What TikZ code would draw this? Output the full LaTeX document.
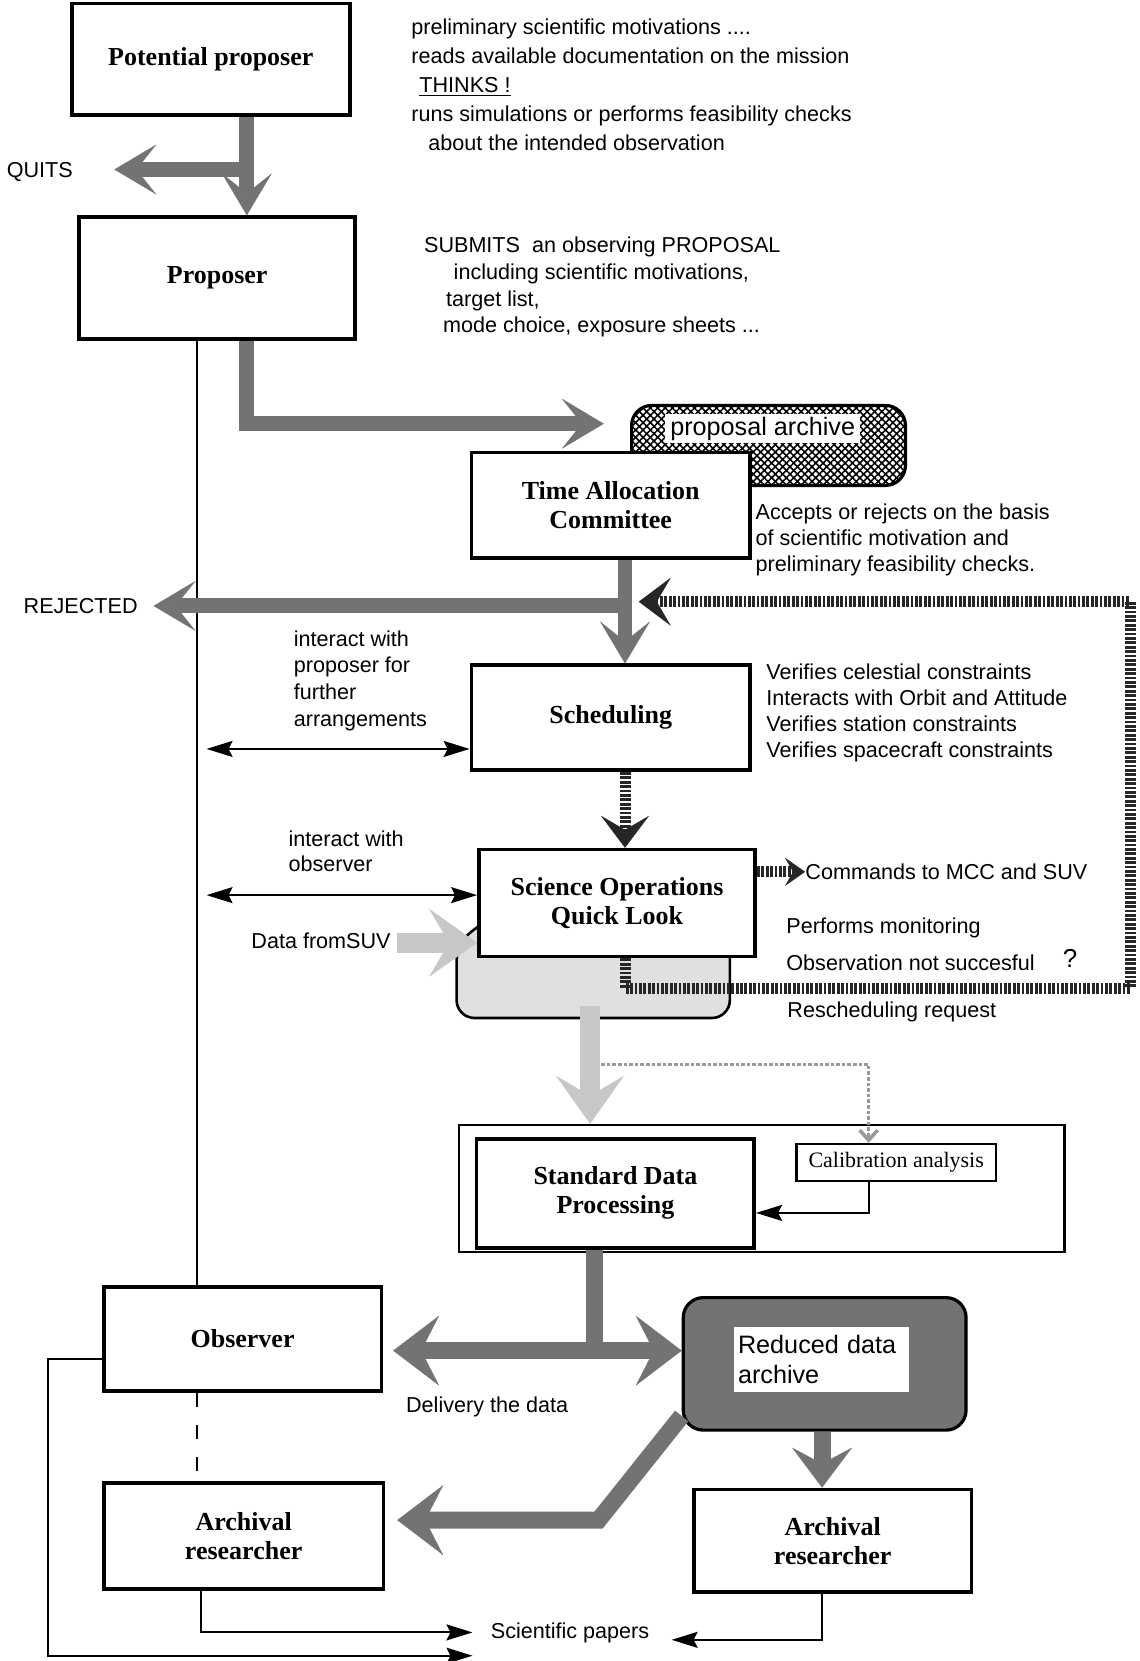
\documentclass[tikz,border=0pt]{standalone}
\usepackage{fontspec}
\setmainfont{Liberation Serif}
\setsansfont{Liberation Sans}
\usetikzlibrary{arrows.meta,patterns.meta,backgrounds}

\begin{document}
\begin{tikzpicture}[
  x=0.53pt, y=-0.53pt,
  box/.style={draw, line width=1.8pt, fill=white, align=center, font=\fontsize{13}{14.5}\selectfont\bfseries},
  txt/.style={anchor=west, align=left, inner sep=0pt, font=\sffamily\fontsize{10.8}{#1}\selectfont},
  txt/.default=13,
  store/.style={draw, line width=1.6pt, rounded corners=10pt},
  xhead/.tip={Stealth[length=21pt, width=25pt, inset=10pt, line width=0.1pt]},
  shead/.tip={Stealth[length=16pt, width=24pt, inset=7pt, line width=0.1pt]},
  lhead/.tip={Stealth[length=24pt, width=34pt, inset=10pt, line width=0.1pt]},
  dhead/.tip={Stealth[length=23pt, width=35pt, inset=9pt, line width=0.1pt]},
  thead/.tip={Stealth[length=13pt, width=8pt, inset=2pt]},
  xarrow/.style={line width=7.5pt, black!55, -xhead},
  sarrow/.style={line width=5.5pt, black!85, dash pattern=on 1.4pt off 0.8pt, -shead},
  larrow/.style={line width=10pt, black!22, -lhead},
  darrow/.style={line width=8.5pt, black!55, -dhead},
  dband/.style={line width=8.5pt, black!55},
  tline/.style={line width=1pt},
  tarrow/.style={line width=1pt, -thead},
  dbl/.style={line width=1pt, thead-thead}
]
\useasboundingbox (0,0) rectangle (1076,1568);

\node[box, minimum width=139pt, minimum height=56pt] (pp) at (199,56) {Potential proposer};
\node[txt=14.6] (motiv) at (388,80) {preliminary scientific motivations ....\\reads available documentation on the mission\\\hspace*{4pt}\underline{THINKS !}\\runs simulations or performs feasibility checks\\\hspace*{8.5pt}about the intended observation};
\node[txt] (quits) at (6,162) {QUITS};
\node[box, minimum width=138pt, minimum height=61pt] (prop) at (205,262.5) {Proposer};
\node[txt=13.4] (submit) at (400,271) {SUBMITS~ an observing PROPOSAL\\\hspace*{14.8pt}including scientific motivations,\\\hspace*{11pt}target list,\\\hspace*{9.5pt}mode choice, exposure sheets ...};
\node[store, preaction={pattern={Lines[angle=45, distance=2.6pt, line width=0.8pt]}}, pattern={Lines[angle=-45, distance=2.6pt, line width=0.8pt]}, minimum width=137pt, minimum height=40pt] (parch) at (725.5,420.5) {};
\node[fill=white, inner sep=0pt, minimum width=97.5pt, minimum height=14.3pt, font=\sffamily\fontsize{12.6}{14}\selectfont] (parchl) at (720,404.5) {proposal archive};
\node[box, minimum width=139.4pt, minimum height=53pt] (tac) at (576.5,477) {Time Allocation\\Committee};
\node[txt] (accept) at (713,509.5) {Accepts or rejects on the basis\\of scientific motivation and\\preliminary feasibility checks.};
\node[txt] (rej) at (22,572) {REJECTED};
\node[box, minimum width=139.4pt, minimum height=52.5pt] (sched) at (576.5,677.5) {Scheduling};
\node[txt=13.3] (inter1) at (277,642.5) {interact with\\proposer for\\further\\arrangements};
\node[txt] (verif) at (723,673) {Verifies celestial constraints\\Interacts with Orbit and Attitude\\Verifies station constraints\\Verifies spacecraft constraints};
\node[box, minimum width=138.3pt, minimum height=53.5pt] (soql) at (582.5,852.5) {Science Operations\\Quick Look};
\node[txt=12.2] (inter2) at (272,803.5) {interact with\\observer};
\node[txt] (dsuv) at (237,888) {Data fromSUV};
\node[txt] (cmd) at (760,823) {Commands to MCC and SUV};
\node[txt] (perf) at (742,876) {Performs monitoring};
\node[txt] (fail) at (742,909) {Observation not succesful};
\node[txt, font=\sffamily\fontsize{13}{14}\selectfont] (qm) at (1003,905) {?};
\node[txt] (resch) at (743,955) {Rescheduling request};
\node[draw, line width=1.2pt, minimum width=303pt, minimum height=63.6pt] (sdpo) at (719,1122) {};
\node[box, minimum width=138.9pt, minimum height=54.6pt] (sdp) at (581,1126.5) {Standard Data\\Processing};
\node[draw, line width=1.2pt, fill=white, font=\fontsize{11}{13}\selectfont, minimum width=99.6pt, minimum height=18.6pt] (cal) at (846,1097.5) {Calibration analysis};
\node[box, minimum width=138.9pt, minimum height=51.9pt] (obs) at (229,1264) {Observer};
\node[store, fill=black!55, minimum width=141.5pt, minimum height=66.3pt] (rda) at (778.5,1287.5) {};
\node[fill=white, align=left, inner sep=2pt, text width=83.5pt, minimum height=32.3pt, font=\sffamily\fontsize{12.6}{14.8}\selectfont] (rdal) at (775.5,1283.5) {Reduced data\\archive};
\node[txt] (deliv) at (383,1328) {Delivery the data};
\node[box, minimum width=139.9pt, minimum height=53pt] (arl) at (230,1450) {Archival\\researcher};
\node[box, minimum width=138.9pt, minimum height=51.4pt] (arr) at (786,1454.5) {Archival\\researcher};
\node[txt] (spap) at (463,1541) {Scientific papers};

\begin{scope}[on background layer]
\draw[line width=1.3pt, rounded corners=9pt, fill=black!12] (455,872) -- (431,890) -- (431,961) -- (689,961) -- (689,900);
\end{scope}

\coordinate (j1) at (233,160);
\coordinate (qt) at (108,160);
\coordinate (pt) at (570,400);
\coordinate (j2) at (590,572);
\coordinate (rt) at (145,572);
\coordinate (rb) at (1067,933);
\coordinate (rs) at (603,568);
\coordinate (tl) at (186,0);
\coordinate (d1) at (195,707);
\coordinate (d2) at (195,845);
\coordinate (ds) at (375,890);
\coordinate (tb) at (557,950);
\coordinate (dl) at (557,1005);
\coordinate (dc) at (820,1005);
\coordinate (ca) at (820,1145);
\coordinate (jd) at (561,1275);
\coordinate (dg) at (565,1435);
\coordinate (ar) at (776,1548);
\coordinate (al) at (190,1541);
\coordinate (lo) at (45,1283);
\coordinate (lb) at (45,1563);

\draw[tline] (tl |- prop.south) -- (tl |- obs.north);
\draw[tline, dash pattern=on 7pt off 9pt] (tl |- obs.south) -- (tl |- arl.north);
\draw[dbl] (d1) -- (d1 -| sched.west);
\draw[dbl] (d2) -- (d2 -| soql.west);

\draw[xarrow] (j1) -- (qt);
\draw[xarrow] (j1 |- pp.south) -- (j1 |- prop.north);
\draw[xarrow] (j1 |- prop.south) |- (pt);
\draw[xarrow] (j2) -- (rt);
\draw[xarrow] (j2 |- tac.south) -- (j2 |- sched.north);

\draw[sarrow] (j2 |- soql.south) |- (rb) |- (rs);
\draw[sarrow] (j2 |- sched.south) -- (j2 |- soql.north);
\draw[sarrow, -{Stealth[length=10pt, width=14pt, inset=4pt, line width=0.1pt]}] (cmd.west -| soql.east) -- (cmd.west);

\draw[line width=1.8pt, black!40, densely dotted, -{Straight Barb[length=5pt, width=9pt]}] (dl) -- (dc) -- (dc |- cal.north);
\draw[larrow] (ds) -- (ds -| soql.west);
\draw[larrow] (tb) -- (tb |- sdpo.north);
\draw[tarrow] (ca |- cal.south) -- (ca) -- (ca -| sdp.east);

\draw[dband] (jd |- sdp.south) -- (jd);
\draw[darrow, dhead-dhead, shorten <=5pt] (jd -| obs.east) -- (jd -| rda.west);
\draw[darrow, shorten >=6pt] (rda.200) -- (dg) -- (dg -| arl.east);
\draw[darrow, -{Stealth[length=20pt, width=30pt, inset=8pt, line width=0.1pt]}] (ar |- rda.south) -- (ar |- arr.north);

\draw[tarrow, shorten >=9pt] (al |- arl.south) -- (al) -- (spap.west);
\draw[tarrow, shorten >=11pt] (ar |- arr.south) -- (ar) -- (ar -| spap.east);
\draw[tarrow, shorten >=9pt] (lo -| obs.west) -- (lo) -- (lb) -- (lb -| spap.west);
\end{tikzpicture}
\end{document}
